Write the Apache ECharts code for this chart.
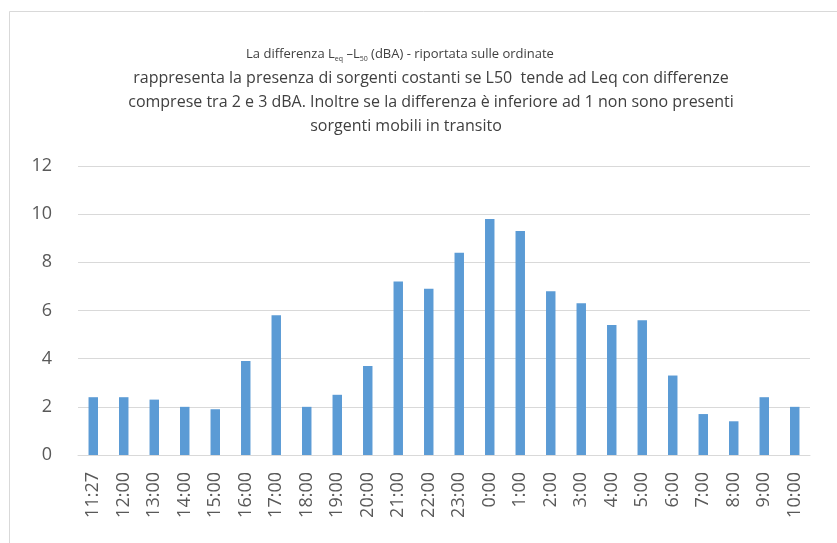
<!DOCTYPE html>
<html><head><meta charset="utf-8">
<script src="https://cdn.jsdelivr.net/npm/echarts@6/dist/echarts.min.js"></script>
<style>html,body{margin:0;padding:0;background:#fff}#c{width:837px;height:543px}</style>
</head><body><div id="c"></div>
<script>
const categories = ['11:27','12:00','13:00','14:00','15:00','16:00','17:00','18:00','19:00','20:00','21:00','22:00','23:00','0:00','1:00','2:00','3:00','4:00','5:00','6:00','7:00','8:00','9:00','10:00'];
const values = [2.4,2.4,2.3,2.0,1.9,3.9,5.8,2.0,2.5,3.7,7.2,6.9,8.4,9.8,9.3,6.8,6.3,5.4,5.6,3.3,1.7,1.4,2.4,2.0];
const yTicks = {min:0, max:12, interval:2};
const titleLines = [
  'rappresenta la presenza di sorgenti costanti se L50  tende ad Leq con differenze',
  'comprese tra 2 e 3 dBA. Inoltre se la differenza è inferiore ad 1 non sono presenti',
  'sorgenti mobili in transito'
];
const FONT = 'Open Sans';
const TXT = '#404040';
const chart = echarts.init(document.getElementById('c'));
chart.setOption({
  animation:false,
  backgroundColor:'#fff',
  graphic:[{type:'rect',shape:{x:9.5,y:11.5,width:900,height:600},style:{fill:'none',stroke:'#d9d9d9',lineWidth:1}}],
  title:[
    {left:395, textAlign:'center', top:42,
     text:'{a|La differenza L}{s|eq}{a| –L}{s|50}{a| (dBA) - riportata sulle ordinate}',
     textStyle:{fontWeight:'normal',rich:{a:{fontFamily:FONT,fontSize:13,fontWeight:'normal',color:TXT,letterSpacing:-0.9},s:{fontFamily:FONT,fontSize:7,fontWeight:'normal',color:TXT,verticalAlign:'bottom',padding:[8,0,0,0]}}}},
    {left:426, textAlign:'center', top:61, text:titleLines[0]+'\n'+titleLines[1],
     textStyle:{fontFamily:FONT,fontSize:16,fontWeight:'normal',color:TXT,lineHeight:24,align:'center'}},
    {left:401, textAlign:'center', top:109, text:titleLines[2],
     textStyle:{fontFamily:FONT,fontSize:16,fontWeight:'normal',color:TXT,lineHeight:24,align:'center'}}
  ],
  grid:{left:78,right:27,top:166,bottom:88,containLabel:false},
  xAxis:{type:'category',data:categories,
    axisLine:{show:true,lineStyle:{color:'#d9d9d9',width:1}},
    axisTick:{show:false},
    axisLabel:{rotate:90,interval:0,fontFamily:FONT,fontSize:18,color:'#595959',margin:17}},
  yAxis:{type:'value',min:yTicks.min,max:yTicks.max,interval:yTicks.interval,
    axisLine:{show:false},axisTick:{show:false},
    splitLine:{lineStyle:{color:'#d9d9d9',width:1}},
    axisLabel:{fontFamily:FONT,fontSize:18,color:'#595959',margin:26}},
  series:[{type:'bar',data:values,barWidth:'31%',itemStyle:{color:'#5b9bd5'}}]
});
</script></body></html>
